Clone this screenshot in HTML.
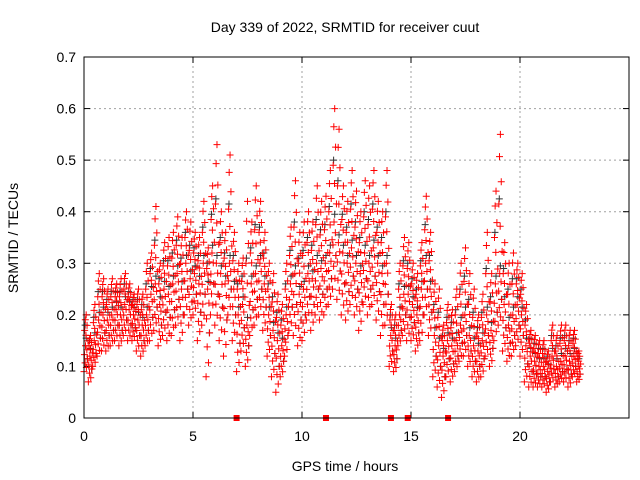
<!DOCTYPE html>
<html><head><meta charset="utf-8"><style>
body{margin:0;background:#fff;}
svg{display:block;font-family:"Liberation Sans",sans-serif;}
</style></head><body>
<svg id="chart" width="640" height="480">
<text x="345" y="32" font-size="14" text-anchor="middle">Day 339 of 2022, SRMTID for receiver cuut</text>
<text x="345" y="471" font-size="14" text-anchor="middle">GPS time / hours</text>
<text transform="translate(18,238) rotate(-90)" font-size="14" text-anchor="middle">SRMTID / TECUs</text>
<g id="grid"></g>
<g id="ticks"></g>
<g id="black"></g>
<g id="red"></g>
<g id="gaps"></g>
<rect x="84" y="57" width="545" height="361" fill="none" stroke="#000" stroke-width="1"/>
</svg>
<script>
const xTicks=[0,5,10,15,20];
const yTicks=[0,0.1,0.2,0.3,0.4,0.5,0.6,0.7];
const yTickLabels=["0","0.1","0.2","0.3","0.4","0.5","0.6","0.7"];
const step=0.2;
const midVals=[.14,.12,.15,.19,.2,.19,.2,.21,.2,.22,.21,.2,.19,.18,.2,.24,.26,.22,.25,.24,.26,.28,.25,.3,.27,.28,.26,.3,.25,.32,.3,.28,.26,.3,.25,.2,.22,.18,.26,.28,.3,.26,.2,.17,.15,.14,.2,.26,.28,.24,.25,.28,.27,.3,.29,.3,.32,.38,.34,.32,.3,.33,.3,.28,.32,.3,.33,.3,.28,.3,.16,.14,.2,.24,.24,.22,.2,.25,.3,.25,.16,.14,.12,.15,.14,.15,.18,.2,.16,.14,.13,.15,.2,.17,.26,.28,.22,.18,.2,.22,.2,.14,.12,.11,.1,.1,.09,.12,.1,.11,.12,.11,.12,.1];
const hiVals=[.2,.16,.22,.28,.27,.25,.27,.26,.27,.28,.26,.24,.25,.24,.3,.32,.41,.3,.34,.35,.36,.39,.35,.4,.38,.36,.35,.42,.33,.45,.53,.4,.36,.51,.36,.3,.31,.42,.38,.45,.42,.36,.3,.28,.24,.22,.3,.37,.46,.36,.38,.4,.38,.45,.42,.43,.48,.6,.56,.45,.42,.48,.44,.4,.46,.45,.48,.42,.4,.48,.22,.2,.3,.35,.34,.3,.28,.34,.43,.36,.26,.25,.18,.22,.21,.25,.3,.33,.28,.25,.2,.24,.36,.28,.44,.55,.34,.3,.32,.3,.28,.22,.17,.16,.15,.15,.13,.18,.16,.18,.18,.17,.17,.13];
const loVals=[.09,.07,.1,.12,.13,.13,.14,.15,.14,.16,.15,.15,.13,.12,.14,.15,.17,.14,.16,.15,.16,.18,.15,.2,.18,.2,.15,.18,.08,.2,.18,.15,.12,.2,.15,.09,.13,.1,.16,.18,.2,.17,.12,.08,.05,.08,.12,.17,.16,.14,.15,.19,.17,.2,.19,.2,.22,.25,.23,.2,.19,.22,.2,.17,.22,.2,.22,.19,.16,.18,.1,.09,.14,.16,.15,.15,.13,.15,.2,.16,.08,.06,.04,.08,.07,.09,.11,.12,.1,.08,.07,.08,.12,.1,.15,.18,.13,.11,.12,.14,.12,.07,.06,.06,.06,.06,.05,.07,.06,.07,.07,.06,.08,.07];
const gapTimes=[7.0,11.1,14.08,14.85,16.7];
const X0=84,X1=629,Y0=418,Y1=57;
const xs=t=>X0+t*(X1-X0)/25;
const ys=v=>Y0-v*(Y0-Y1)/0.7;
const NS="http://www.w3.org/2000/svg";
function mk(tag,attrs,parent){const e=document.createElementNS(NS,tag);for(const k in attrs)e.setAttribute(k,attrs[k]);parent.appendChild(e);return e;}
const grid=document.getElementById('grid'),ticks=document.getElementById('ticks');
xTicks.forEach(t=>{
  const x=xs(t);
  if(t>0){const g=mk('line',{x1:x,x2:x,y1:Y0,y2:Y1,stroke:'#a0a0a0','stroke-dasharray':'2,3'},grid);
  
  }
  mk('line',{x1:x,x2:x,y1:Y0,y2:Y0-6,stroke:'#000'},ticks);
  mk('line',{x1:x,x2:x,y1:Y1,y2:Y1+6,stroke:'#000'},ticks);
  const l=mk('text',{x:x,y:Y0+23,'font-size':14,'text-anchor':'middle'},ticks);l.textContent=t;
  
  
});
yTicks.forEach((v,i)=>{
  const y=ys(v);
  if(v>0&&v<0.7){const g=mk('line',{x1:X0,x2:X1,y1:y,y2:y,stroke:'#a0a0a0','stroke-dasharray':'2,3'},grid);
  
  }
  mk('line',{x1:X0,x2:X0+6,y1:y,y2:y,stroke:'#000'},ticks);
  mk('line',{x1:X1,x2:X1-6,y1:y,y2:y,stroke:'#000'},ticks);
  const l=mk('text',{x:X0-8,y:y+5,'font-size':14,'text-anchor':'end'},ticks);l.textContent=yTickLabels[i];
  
  
});
function plus(g,t,v,c){
  const x=xs(t),y=ys(v);
  const p=mk('path',{d:`M${x-3.5},${y}h7M${x},${y-3.5}v7`,stroke:c,'stroke-width':1,fill:'none'},g);
  
  
}
const red=document.getElementById('red'),black=document.getElementById('black');
const fr=[0,0.08,0.17,0.25,0.33,0.42,0.5,0.58,0.67,0.75,0.83,0.92,1];
const dt=[0.0,0.11,0.05,0.16,0.02,0.13,0.07,0.18,0.09,0.03,0.14,0.06,0.1];
midVals.forEach((m,i)=>{
  const t=i*step,h=hiVals[i],l=loVals[i];
  plus(black,t+0.05,(m+h)/2+0.01,'#333');
  plus(black,t+0.15,(m+l)/2,'#333');
  plus(black,t+0.1,m+0.015,'#333');
  fr.forEach((f,k)=>{
    const v=f<0.5? l+(m-l)*f*2 : m+(h-m)*(f-0.5)*2;
    plus(red,t+dt[k],v,'red');
  });
});
const gaps=document.getElementById('gaps');
gapTimes.forEach(t=>{
  const r=mk('rect',{x:xs(t)-3,y:Y0-3,width:6,height:6,fill:'red'},gaps);
  
  
});
</script>
</body></html>
